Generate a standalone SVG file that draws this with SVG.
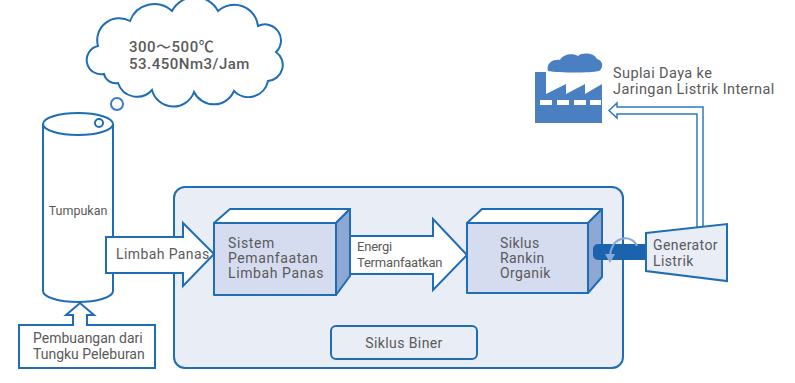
<svg xmlns="http://www.w3.org/2000/svg" width="795" height="383" viewBox="0 0 795 383">
  <style>
    .wt { fill: #ffffff; stroke: #1f6db5; stroke-width: 2; stroke-linejoin: miter; }
    .t { font-family: Roboto, "Liberation Sans", "Noto Sans CJK JP", sans-serif; fill: #5a5a5a; }
    .m { font-size: 14px; letter-spacing: 0.4px; }
    .front { fill: #d5dcef; stroke: #1f6db5; stroke-width: 2; stroke-linejoin: round; }
    .side { fill: #8ea8d6; stroke: #1f6db5; stroke-width: 2; stroke-linejoin: round; }
    .top { fill: #ffffff; stroke: #1f6db5; stroke-width: 2; stroke-linejoin: round; }
  </style>
  <rect width="795" height="383" fill="#ffffff"/>

  <!-- binary cycle container -->
  <g id="binary-cycle">
    <rect x="174" y="187" width="449" height="181" rx="11" fill="#e9edf6" stroke="#1f6db5" stroke-width="2"/>
    <rect x="331" y="326" width="146" height="33" rx="5" fill="#e9edf6" stroke="#1f6db5" stroke-width="2"/>
    <text class="t m" x="404" y="348" text-anchor="middle">Siklus Biner</text>
  </g>

  <!-- thought bubble -->
  <g id="thought-cloud">
    <path class="wt" stroke="#3d7cc2" d="M104,74 A14,14 0 0 1 98,46 A22,22 0 0 1 130,21 A26,26 0 0 1 172,11 A26,26 0 0 1 218,11 A24,24 0 0 1 258,26 A16,16 0 0 1 276,52 A16,16 0 0 1 268,81 A20,20 0 0 1 234,91 A22,22 0 0 1 194,92 A22,22 0 0 1 152,90 A20,20 0 0 1 118,83 A12,12 0 0 1 104,74 Z"/>
    <circle cx="117" cy="104" r="6" fill="#ffffff" stroke="#3d7cc2" stroke-width="2"/>
    <text class="t" x="129" y="52" style="font-size:15px;font-weight:500;letter-spacing:0.5px">300～500℃</text>
    <text class="t" x="129" y="69" style="font-size:15px;font-weight:500;letter-spacing:0.5px">53.450Nm3/Jam</text>
  </g>

  <!-- stack -->
  <g id="stack">
    <path class="wt" d="M43,124 V291 A35,11 0 0 0 113,291 V124"/>
    <ellipse class="wt" cx="78" cy="124" rx="35" ry="11"/>
    <circle cx="99" cy="123" r="4" fill="#ffffff" stroke="#1f6db5" stroke-width="2"/>
    <text class="t" x="78" y="215" text-anchor="middle" style="font-size:12.5px">Tumpukan</text>
  </g>

  <!-- furnace exhaust -->
  <g id="furnace-exhaust">
    <path class="wt" d="M19,325 H73 V315 H66 L80,303 L94,315 H87 V325 H155 V368 H19 Z"/>
    <text class="t" x="33" y="343" style="font-size:14px">Pembuangan dari</text>
    <text class="t" x="33" y="359" style="font-size:14px">Tungku Peleburan</text>
  </g>

  <!-- connectors -->
  <g id="connectors">
    <path class="wt" d="M106,237 H183 V223 L214,254 L183,286 V273 H106 Z"/>
    <text class="t m" x="116" y="259">Limbah Panas</text>
    <path class="wt" d="M343,236 H433 V219 L467,255 L433,290 V274 H343 Z"/>
    <text class="t" x="357" y="251" style="font-size:13px;letter-spacing:-0.2px">Energi</text>
    <text class="t" x="357" y="267" style="font-size:13px;letter-spacing:-0.2px">Termanfaatkan</text>
    <!-- power supply line back to the plant -->
    <path fill="#ffffff" stroke="#2f78c0" stroke-width="1.5" d="M609,110.5 L617,103 V107 H703 V228 H697 V114 H617 V118 Z"/>
  </g>

  <!-- heat recovery system -->
  <g id="heat-recovery">
    <path class="top" d="M214,223 L230,209 H350 L336,223 Z"/>
    <path class="side" d="M336,223 L350,209 V276 L336,295 Z"/>
    <rect class="front" x="214" y="223" width="122" height="72"/>
    <text class="t" x="228" y="248" style="font-size:14px;letter-spacing:0.6px">Sistem</text>
    <text class="t" x="228" y="263" style="font-size:14px;letter-spacing:0.6px">Pemanfaatan</text>
    <text class="t" x="228" y="278" style="font-size:14px;letter-spacing:0.6px">Limbah Panas</text>
  </g>

  <!-- organic rankine cycle -->
  <g id="orc">
    <path class="top" d="M467,223 L482,209 H602 L588,223 Z"/>
    <path class="side" d="M588,223 L602,209 V277 L588,293 Z"/>
    <rect class="front" x="467" y="223" width="121" height="70"/>
    <text class="t m" x="500" y="248">Siklus</text>
    <text class="t m" x="500" y="263">Rankin</text>
    <text class="t m" x="500" y="278">Organik</text>
  </g>

  <!-- shaft -->
  <g id="shaft">
    <rect x="593" y="244" width="58" height="16" rx="5" fill="#1c63ad"/>
    <path d="M637,246 C633,235 613,234 610,255" fill="none" stroke="#86a9d9" stroke-width="2"/>
    <path d="M605,254 L610,263 L615,254 Z" fill="#86a9d9"/>
  </g>

  <!-- generator -->
  <g id="generator">
    <path d="M646,233 L727,224 V281 L646,271 Z" fill="#e9edf6" stroke="#1f6db5" stroke-width="2" stroke-linejoin="miter"/>
    <text class="t m" x="653" y="250">Generator</text>
    <text class="t m" x="653" y="266">Listrik</text>
  </g>

  <!-- factory -->
  <g id="factory">
    <path fill="#4a7fc1" d="M535,123 V72 H546 V94 L566,84 V94 L585,84 V94 L602,84 V123 Z"/>
    <path fill="#4a7fc1" d="M548,71 C546,64 552,59 560,60 C563,54 573,53 578,56 C583,52 594,53 597,59 C603,60 604,68 599,71 C590,73 560,73 548,71 Z"/>
    <g fill="#ffffff">
      <rect x="540" y="100" width="12" height="5"/>
      <rect x="557" y="100" width="12" height="5"/>
      <rect x="574" y="100" width="12" height="5"/>
      <rect x="590" y="100" width="11" height="5"/>
    </g>
    <text class="t" x="613" y="78" style="font-size:14.5px;letter-spacing:0.4px">Suplai Daya ke</text>
    <text class="t" x="613" y="94" style="font-size:14.5px;letter-spacing:0.4px">Jaringan Listrik Internal</text>
  </g>
</svg>
